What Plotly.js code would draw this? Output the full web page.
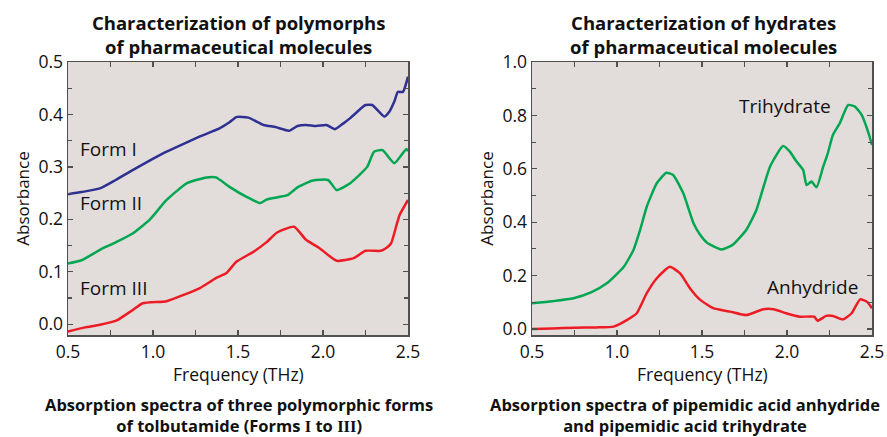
<!DOCTYPE html>
<html>
<head>
<meta charset="utf-8">
<script src="https://cdn.plot.ly/plotly-3.0.1.min.js"></script>
<style>html,body{margin:0;padding:0;background:#fff;}#chart{width:887px;height:437px;}</style>
</head>
<body>
<div id="chart"></div>
<script>
// ---- Left panel: tolbutamide polymorphs ----
var formIFreq = [0.5,0.58,0.688,0.78,0.88,0.98,1.08,1.18,1.276,1.394,1.45,1.49,1.56,1.65,1.72,1.80,1.85,1.90,1.96,2.02,2.07,2.12,2.16,2.25,2.29,2.36,2.39,2.42,2.44,2.47,2.5];
var formIVal  = [0.248,0.252,0.259,0.275,0.294,0.312,0.329,0.344,0.358,0.374,0.385,0.395,0.394,0.380,0.376,0.369,0.378,0.380,0.378,0.380,0.372,0.383,0.393,0.418,0.418,0.396,0.405,0.425,0.443,0.443,0.472];

var formIIFreq = [0.5,0.58,0.688,0.78,0.88,0.924,0.98,1.08,1.2,1.316,1.37,1.45,1.55,1.63,1.67,1.79,1.85,1.94,2.03,2.08,2.16,2.26,2.30,2.35,2.42,2.49,2.5];
var formIIVal  = [0.116,0.122,0.142,0.156,0.173,0.184,0.199,0.237,0.269,0.280,0.280,0.262,0.243,0.231,0.238,0.246,0.261,0.274,0.275,0.256,0.269,0.300,0.329,0.332,0.307,0.334,0.330];

var formIIIFreq = [0.5,0.6,0.688,0.79,0.88,0.94,1.08,1.18,1.276,1.37,1.43,1.49,1.59,1.67,1.73,1.83,1.90,1.98,2.08,2.18,2.25,2.34,2.37,2.40,2.43,2.45,2.5];
var formIIIVal  = [-0.014,-0.006,-0.001,0.008,0.027,0.040,0.044,0.056,0.069,0.088,0.097,0.119,0.138,0.157,0.175,0.186,0.161,0.145,0.121,0.126,0.140,0.140,0.145,0.154,0.186,0.208,0.237];

// ---- Right panel: pipemidic acid ----
var triFreq = [0.5,0.62,0.744,0.85,0.94,1.04,1.097,1.136,1.175,1.234,1.29,1.33,1.39,1.45,1.49,1.53,1.615,1.68,1.76,1.82,1.90,1.977,2.017,2.056,2.095,2.115,2.144,2.174,2.213,2.24,2.27,2.31,2.36,2.40,2.44,2.48,2.5];
var triVal  = [0.096,0.104,0.115,0.138,0.171,0.233,0.296,0.371,0.458,0.546,0.585,0.577,0.508,0.396,0.352,0.323,0.298,0.315,0.371,0.446,0.608,0.685,0.664,0.627,0.596,0.539,0.552,0.531,0.608,0.658,0.727,0.770,0.839,0.833,0.801,0.733,0.689];

var anhFreq = [0.5,0.62,0.75,0.88,0.98,1.06,1.116,1.175,1.234,1.31,1.37,1.43,1.49,1.566,1.665,1.76,1.86,1.92,1.995,2.075,2.16,2.18,2.23,2.27,2.33,2.38,2.43,2.47,2.5];
var anhVal  = [0.000,0.002,0.005,0.006,0.009,0.034,0.059,0.134,0.190,0.233,0.209,0.152,0.109,0.078,0.065,0.052,0.074,0.074,0.059,0.046,0.046,0.031,0.049,0.049,0.036,0.059,0.111,0.102,0.078];

var xTickVals = [0.5,1.0,1.5,2.0,2.5];
var xTickText = ['0.5','1.0','1.5','2.0','2.5'];

var FONT = 'Open Sans, Noto Sans, sans-serif';
var AX = '#505050';
var BG = '#e2dddb';
var BLUE = '#2e3192', GREEN = '#00a651', RED = '#ed1c24';

function tr(x, y, color, xa, ya) {
  return {x: x, y: y, type: 'scatter', mode: 'lines', xaxis: xa, yaxis: ya,
          line: {color: color, width: 2.5, shape: 'spline', smoothing: 0.5},
          showlegend: false, hoverinfo: 'skip'};
}

var data = [
  tr(formIFreq, formIVal, BLUE, 'x', 'y'),
  tr(formIIFreq, formIIVal, GREEN, 'x', 'y'),
  tr(formIIIFreq, formIIIVal, RED, 'x', 'y'),
  tr(triFreq, triVal, GREEN, 'x2', 'y2'),
  tr(anhFreq, anhVal, RED, 'x2', 'y2')
];

function xax(domain, anchor) {
  return {domain: domain, anchor: anchor, range: [0.5, 2.5], tickvals: xTickVals, ticktext: xTickText,
    ticks: 'inside', ticklen: 5, tickwidth: 1.2, tickcolor: AX,
    minor: {tickvals: [0.75,1.25,1.75,2.25], ticks: 'inside', ticklen: 5, tickwidth: 1.2, tickcolor: AX},
    showline: true, linecolor: AX, linewidth: 1.5, mirror: 'ticks',
    showgrid: false, zeroline: false, fixedrange: true,
    tickfont: {family: FONT, size: 17.5, color: '#111'}};
}
function yax(domain, anchor, range, dtick, mdtick) {
  return {domain: domain, anchor: anchor, range: range, dtick: dtick, tick0: 0, tickformat: '.1f',
    ticks: 'inside', ticklen: 5, tickwidth: 1.2, tickcolor: AX,
    minor: {dtick: mdtick, tick0: 0, ticks: 'inside', ticklen: 4, tickwidth: 1.2, tickcolor: AX},
    showline: true, linecolor: AX, linewidth: 1.5, mirror: 'ticks',
    showgrid: false, zeroline: false, fixedrange: true,
    tickfont: {family: FONT, size: 17.5, color: '#111'},
    title: {text: 'Absorbance', font: {family: FONT, size: 17, color: '#111'}, standoff: 4}};
}

var yDom = [(437-335)/437, (437-62)/437];

function pa(text, xpx, ypx, size) {
  return {xref: 'paper', yref: 'paper', x: xpx/887, y: (437-ypx)/437, text: text, showarrow: false,
          xanchor: 'center', yanchor: 'middle', font: {family: FONT, size: size, color: '#111'}};
}
function da(text, x, y, xa, ya, anchor) {
  return {xref: xa, yref: ya, x: x, y: y, text: text, showarrow: false, xanchor: anchor, yanchor: 'middle',
          font: {family: FONT, size: 19, color: '#111'}};
}
var SERIF = '<span style="font-family:\'Liberation Serif\'">';

var layout = {
  width: 887, height: 437, margin: {l: 0, r: 0, t: 0, b: 0},
  paper_bgcolor: '#ffffff', plot_bgcolor: BG, showlegend: false,
  xaxis: xax([68/887, 408/887], 'y'),
  yaxis: yax(yDom, 'x', [-0.0205, 0.5], 0.1, 0.05),
  xaxis2: xax([532/887, 872/887], 'y2'),
  yaxis2: yax(yDom, 'x2', [-0.0225, 1.0], 0.2, 0.1),
  annotations: [
    pa('<b>Characterization of polymorphs<br>of pharmaceutical molecules</b>', 238.5, 34.5, 18.5),
    pa('<b>Characterization of hydrates<br>of pharmaceutical molecules</b>', 703, 34.5, 18.5),
    pa('Frequency (THz)', 238, 374, 17.5),
    pa('Frequency (THz)', 702, 374, 17.5),
    pa('<b>Absorption spectra of three polymorphic forms<br>of tolbutamide (Forms ' + SERIF + 'I</span> to ' + SERIF + 'III</span>)</b>', 239, 414.5, 16.5),
    pa('<b>Absorption spectra of pipemidic acid anhydride<br>and pipemidic acid trihydrate</b>', 685, 414.5, 16.5),
    da('Form I', 0.559, 0.335, 'x', 'y', 'left'),
    da('Form II', 0.559, 0.231, 'x', 'y', 'left'),
    da('Form III', 0.559, 0.070, 'x', 'y', 'left'),
    da('Trihydrate', 2.269, 0.835, 'x2', 'y2', 'right'),
    da('Anhydride', 1.87, 0.158, 'x2', 'y2', 'left')
  ]
};

Plotly.newPlot('chart', data, layout, {staticPlot: true, displayModeBar: false});
</script>
</body>
</html>
